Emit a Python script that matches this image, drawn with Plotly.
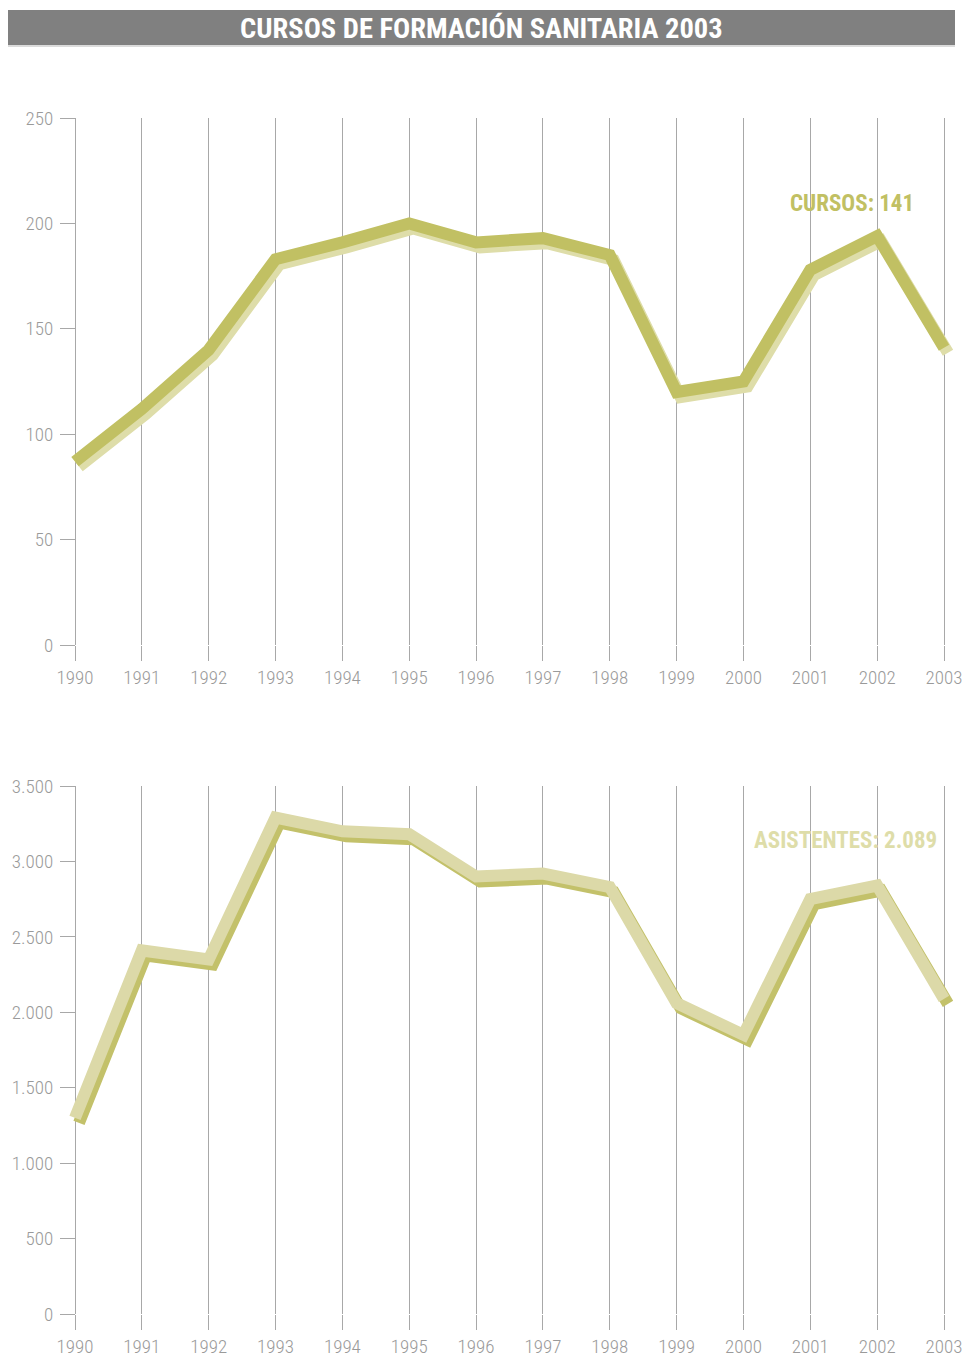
import plotly.graph_objects as go

anios = [1990, 1991, 1992, 1993, 1994, 1995, 1996, 1997, 1998, 1999, 2000, 2001, 2002, 2003]
cursos = [87, 112, 140, 183, 191, 200, 191, 193, 185, 120, 125, 178, 194, 141]
asistentes = [1300, 2410, 2350, 3290, 3200, 3180, 2900, 2920, 2830, 2060, 1850, 2750, 2840, 2089]

W, H = 965, 1358
FONT = "Roboto Condensed, Open Sans Condensed, sans-serif"
GRIS = "#a8a8a8"
TXT = "#9a9a9a"

OLIVA = "#c1c063"
OLIVA_CLARO = "#dedda9"
BEIGE = "#dcd9a8"
BEIGE_OSC = "#c3c16a"


def px(p):
    return p / W


def py(p):
    return 1 - p / H


# 1990 en x=75 px, 2003 en x=944 px; el area se amplia un poco para no cortar la linea
paso_x = (944 - 75) / 13
x_dom = [px(62), px(960)]
x_rng = [1990 - 13 / paso_x, 2003 + 16 / paso_x]
top_dom = [py(645), py(118)]
bot_dom = [py(1314), py(786)]

# desplazamiento del "relieve" en pixeles
dx_px, dy_px = 4, 5
dx = dx_px / paso_x
dy_top = dy_px * 250 / (645 - 118)
dy_bot = dy_px * 3500 / (1314 - 786)

fig = go.Figure()

# sombras (ejes ocultos desplazados)
fig.add_trace(go.Scatter(x=anios, y=cursos, xaxis="x", yaxis="y", mode="lines",
                         line=dict(color=OLIVA_CLARO, width=12), cliponaxis=False,
                         hoverinfo="skip"))
fig.add_trace(go.Scatter(x=anios, y=asistentes, xaxis="x2", yaxis="y2", mode="lines",
                         line=dict(color=BEIGE_OSC, width=12), cliponaxis=False,
                         hoverinfo="skip"))
# lineas principales
fig.add_trace(go.Scatter(x=anios, y=cursos, xaxis="x3", yaxis="y3", mode="lines",
                         line=dict(color=OLIVA, width=12), cliponaxis=False,
                         name="Cursos"))
fig.add_trace(go.Scatter(x=anios, y=asistentes, xaxis="x4", yaxis="y4", mode="lines",
                         line=dict(color=BEIGE, width=12), cliponaxis=False,
                         name="Asistentes"))

oculto = dict(visible=False, domain=x_dom, fixedrange=True, automargin=False,
              range=[x_rng[0] - dx, x_rng[1] - dx])

eje_x = dict(
    domain=x_dom, range=x_rng, tickmode="array", tickvals=anios,
    ticktext=[str(a) for a in anios], automargin=False,
    showgrid=True, gridcolor=GRIS, gridwidth=1.3,
    ticks="outside", ticklen=15, tickcolor=GRIS, tickwidth=1.3,
    showline=False, zeroline=False,
    tickfont=dict(family=FONT, size=19, color=TXT, weight=300),
)
eje_y = dict(
    showgrid=False, zeroline=False, showline=False,
    anchor="free", position=px(75),
    ticks="outside", ticklen=15, tickcolor=GRIS, tickwidth=1.3, automargin=False,
    tickfont=dict(family=FONT, size=19, color=TXT, weight=300), ticklabelstandoff=3,
)

fig.update_layout(
    width=W, height=H, autosize=False,
    margin=dict(l=0, r=0, t=0, b=0, autoexpand=False),
    plot_bgcolor="white", paper_bgcolor="white",
    showlegend=False, separators=",.",
    xaxis=dict(oculto, anchor="y"),
    yaxis=dict(visible=False, domain=top_dom, range=[dy_top, 250 + dy_top], anchor="x",
               automargin=False),
    xaxis2=dict(oculto, anchor="y2"),
    yaxis2=dict(visible=False, domain=bot_dom, range=[dy_bot, 3500 + dy_bot], anchor="x2",
                automargin=False),
    xaxis3=dict(eje_x, overlaying="x", anchor="y3"),
    yaxis3=dict(eje_y, domain=top_dom, range=[0, 250], dtick=50, overlaying="y"),
    xaxis4=dict(eje_x, overlaying="x2", anchor="y4"),
    yaxis4=dict(eje_y, domain=bot_dom, range=[0, 3500], dtick=500, overlaying="y2",
                separatethousands=True),
    shapes=[
        dict(type="rect", xref="paper", yref="paper", x0=px(8), x1=px(955),
             y0=py(45), y1=py(10), fillcolor="#808080", line=dict(width=0), layer="below"),
        dict(type="line", xref="paper", yref="paper", x0=px(8), x1=px(955),
             y0=py(46), y1=py(46), line=dict(color="#cfcfcf", width=1.5)),
    ],
    annotations=[
        dict(text="CURSOS DE FORMACIÓN SANITARIA 2003", xref="paper", yref="paper",
             x=px(481), y=py(28), xanchor="center", yanchor="middle", showarrow=False,
             font=dict(family=FONT, size=28.5, color="white", weight="bold")),
        dict(text="CURSOS: 141", xref="paper", yref="paper",
             x=px(852), y=py(203), xanchor="center", yanchor="middle", showarrow=False,
             font=dict(family=FONT, size=23, color=OLIVA, weight="bold")),
        dict(text="ASISTENTES: 2.089", xref="paper", yref="paper",
             x=px(845), y=py(840), xanchor="center", yanchor="middle", showarrow=False,
             font=dict(family=FONT, size=23, color=OLIVA_CLARO, weight="bold")),
    ],
)

# sin el margen por defecto del body, el grafico ocupa toda la ventana
fig.write_html("out.html", config={"displayModeBar": False},
               post_script="document.body.style.margin = '0px';")
